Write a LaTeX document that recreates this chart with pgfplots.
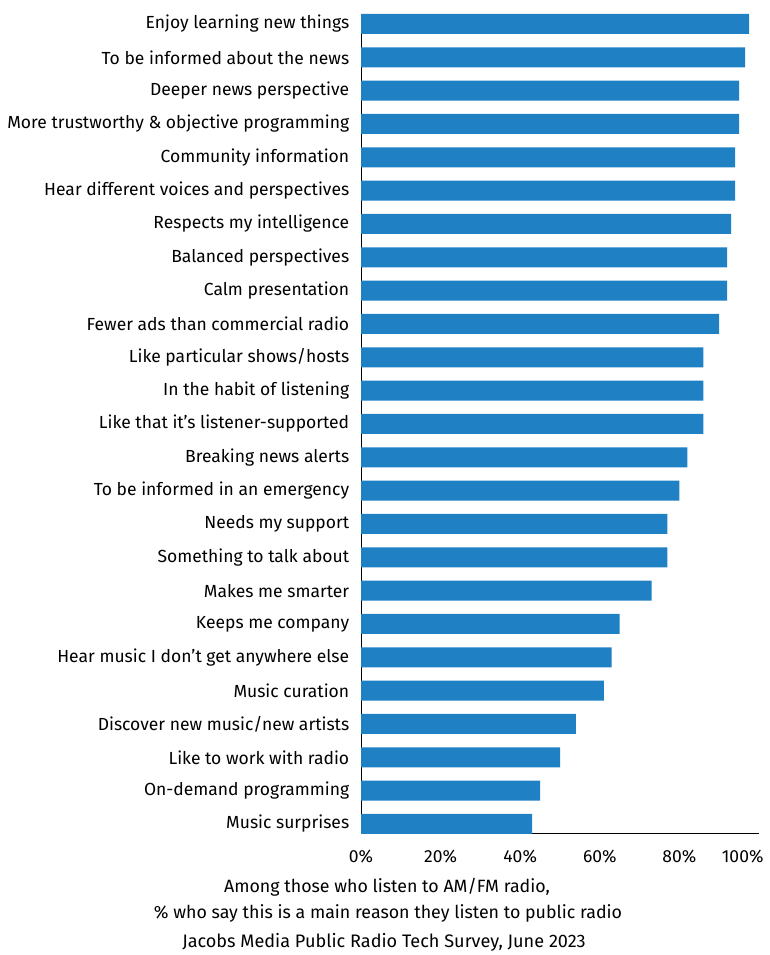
\documentclass[border=0pt]{standalone}
\usepackage{pgfplots}
\pgfplotsset{compat=1.18}
\usepackage{fontspec}
\setmainfont{Fira Sans}
\definecolor{barblue}{RGB}{31,128,195}
\begin{document}
\begin{tikzpicture}[x=1pt,y=1pt]
\path (0,0) rectangle (769,955);
\begin{axis}[
  at={(361pt,121pt)}, anchor=south west,
  width=398pt, height=820pt, scale only axis,
  xbar, bar width=20pt,
  xmin=0, xmax=100,
  ymin=-0.3, ymax=24.3,
  axis x line*=bottom, axis y line*=left,
  axis line style={black, line width=1pt},
  xtick={0,20,40,60,80},
  extra x ticks={100},
  extra x tick style={xticklabel style={anchor=north east, xshift=8pt}},
  xticklabel={\pgfmathprintnumber{\tick}\%},
  /pgf/number format/assume math mode=true,
  xtick style={draw=none}, ytick style={draw=none},
  xticklabel style={font=\fontsize{17.5}{20}\selectfont, yshift=-13pt},
  ytick={0,...,24},
  yticklabels={Music surprises, On-demand programming, Like to work with radio, Discover new music/new artists, Music curation, Hear music I don’t get anywhere else, Keeps me company, Makes me smarter, Something to talk about, Needs my support, To be informed in an emergency, Breaking news alerts, Like that it’s listener-supported, In the habit of listening, Like particular shows/hosts, Fewer ads than commercial radio, Calm presentation, Balanced perspectives, Respects my intelligence, Hear different voices and perspectives, Community information, More trustworthy \& objective programming, Deeper news perspective, To be informed about the news, Enjoy learning new things},
  yticklabel style={font=\fontsize{17.5}{20}\selectfont, anchor=east, xshift=-4pt},
  clip=false,
]
\addplot[draw=none, fill=barblue] coordinates {
(43,0) (45,1) (50,2) (54,3) (61,4) (63,5) (65,6) (73,7) (77,8) (77,9)
(80,10) (82,11) (86,12) (86,13) (86,14) (90,15) (92,16) (92,17) (93,18) (94,19)
(94,20) (95,21) (95,22) (96.5,23) (97.5,24)};
\end{axis}
\node[font=\fontsize{17.8}{20}\selectfont] at (387,68) {Among those who listen to AM/FM radio,};
\node[font=\fontsize{17.8}{20}\selectfont] at (388,42) {\% who say this is a main reason they listen to public radio};
\node[font=\fontsize{18.1}{20}\selectfont] at (384,13) {Jacobs Media Public Radio Tech Survey, June 2023};
\end{tikzpicture}
\end{document}
